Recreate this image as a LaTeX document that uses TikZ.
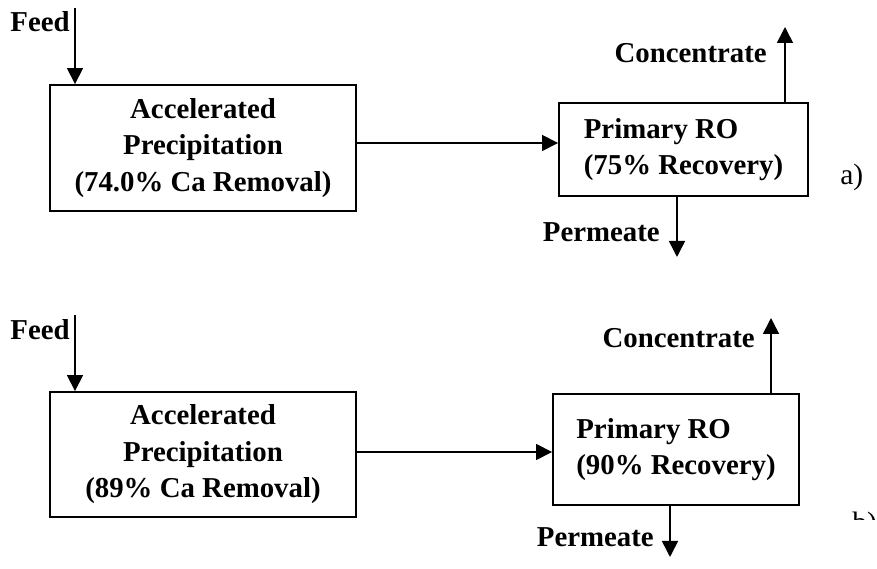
\documentclass[tikz,border=0pt]{standalone}
\usepackage{fontspec}
\setmainfont{Liberation Serif}
\usetikzlibrary{arrows.meta}
\begin{document}
\begin{tikzpicture}[x=0.025cm,y=-0.025cm,
  >={Triangle[width=0.4cm,length=0.4cm]},
  pipe/.style={->,line width=1.1pt},
  unit/.style={draw,line width=1.3pt,inner sep=0pt,font=\fontsize{20.5}{26}\selectfont\bfseries},
  flow/.style={font=\fontsize{20.5}{26}\selectfont\bfseries,inner sep=0pt},
  tag/.style={font=\fontsize{21}{26}\selectfont,inner sep=0pt}]
\useasboundingbox (0,0) rectangle (877,569);

% a)
\node[unit,minimum width=7.65cm,minimum height=3.15cm,align=center] (pa) at (203,148)
  {Accelerated\\ Precipitation\\ (74.0\% Ca Removal)};
\node[unit,minimum width=6.225cm,minimum height=2.325cm,align=left] (ro) at (683.5,149.5)
  {Primary RO\\ (75\% Recovery)};
\node[flow,anchor=base east] (fa) at (70,32) {Feed};
\coordinate (fa0) at (75,8);
\draw[pipe] (fa0) -- (fa0 |- pa.north);
\draw[pipe] (pa.east |- 0,143) -- (ro.west |- 0,143);
\coordinate (ca0) at (785,27);
\draw[pipe] (ca0 |- ro.north) -- (ca0);
\node[flow,anchor=base east] (ca) at (767,63) {Concentrate};
\coordinate (pe0) at (677,257);
\draw[pipe] (pe0 |- ro.south) -- (pe0);
\node[flow,anchor=base east] (pe) at (660,242) {Permeate};
\node[tag,anchor=base west] (ta) at (840,185) {a)};

% b)
\node[unit,minimum width=7.65cm,minimum height=3.125cm,align=center] (pb) at (203,454.5)
  {Accelerated\\ Precipitation\\ (89\% Ca Removal)};
\node[unit,minimum width=6.15cm,minimum height=2.775cm,align=left] (rob) at (676,449.5)
  {Primary RO\\ (90\% Recovery)};
\node[flow,anchor=base east] (fb) at (70,340) {Feed};
\coordinate (fb0) at (75,315);
\draw[pipe] (fb0) -- (fb0 |- pb.north);
\draw[pipe] (pb.east |- 0,452) -- (rob.west |- 0,452);
\coordinate (cb0) at (771,318);
\draw[pipe] (cb0 |- rob.north) -- (cb0);
\node[flow,anchor=base east] (cb) at (755,348) {Concentrate};
\coordinate (pf0) at (670,557);
\draw[pipe] (pf0 |- rob.south) -- (pf0);
\node[flow,anchor=base east] (pf) at (654,547) {Permeate};
\begin{scope}
\clip (840,500) rectangle (877,520);
\node[tag,anchor=base west] (tb) at (852,533) {b)};
\end{scope}
\end{tikzpicture}
\end{document}
